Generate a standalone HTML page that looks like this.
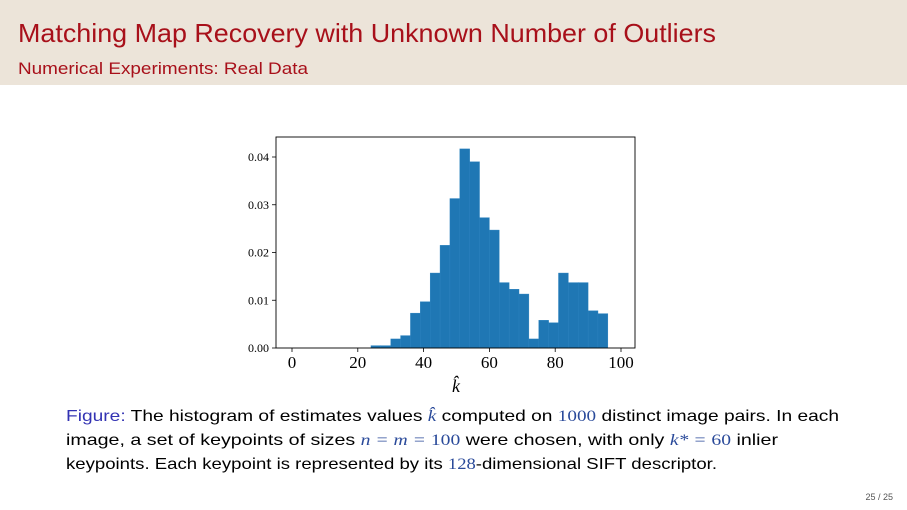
<!DOCTYPE html>
<html><head><meta charset="utf-8"><style>
body{margin:0;width:907px;height:510px;overflow:hidden;background:#fff}
svg{display:block}
.sans{font-family:"Liberation Sans",sans-serif}
.serif{font-family:"Liberation Serif",serif}
</style></head><body>
<svg id="s" width="907" height="510" xmlns="http://www.w3.org/2000/svg">
<rect x="0" y="0" width="907" height="85" fill="#ece4d9"/>
<text class="sans" x="18" y="42" font-size="26" fill="#a8101a" textLength="698" lengthAdjust="spacingAndGlyphs">Matching Map Recovery with Unknown Number of Outliers</text>
<text class="sans" x="18" y="74" font-size="17" fill="#a8101a" textLength="290" lengthAdjust="spacingAndGlyphs">Numerical Experiments: Real Data</text>
<g id="chart"></g>
<text class="sans" x="66" y="421" font-size="16" fill="#000" textLength="773" lengthAdjust="spacingAndGlyphs"><tspan fill="#3333b3">Figure:</tspan> The histogram of estimates values <tspan class="serif" font-style="italic" fill="#2a4a9a">k̂</tspan> computed on <tspan class="serif" fill="#2a4a9a">1000</tspan> distinct image pairs. In each</text>
<text class="sans" x="66" y="445" font-size="16" fill="#000" textLength="712" lengthAdjust="spacingAndGlyphs">image, a set of keypoints of sizes <tspan class="serif" font-style="italic" fill="#2a4a9a">n = m = </tspan><tspan class="serif" fill="#2a4a9a">100</tspan> were chosen, with only <tspan class="serif" font-style="italic" fill="#2a4a9a">k* = </tspan><tspan class="serif" fill="#2a4a9a">60</tspan> inlier</text>
<text class="sans" x="66" y="469" font-size="16" fill="#000" textLength="651" lengthAdjust="spacingAndGlyphs">keypoints. Each keypoint is represented by its <tspan class="serif" fill="#2a4a9a">128</tspan>-dimensional SIFT descriptor.</text>
<text class="sans" x="893" y="500" font-size="9" fill="#555" text-anchor="end">25 / 25</text>
</svg>
<script>
const binStarts=[24,27,30,33,36,39,42,45,48,51,54,57,60,63,66,69,72,75,78,81,84,87,90,93];
const densities=[0.0005,0.0005,0.0019,0.0026,0.0073,0.0097,0.0157,0.0215,0.0313,0.0417,0.039,0.0273,0.0247,0.0137,0.0123,0.0113,0.0019,0.0058,0.0053,0.0157,0.0137,0.0137,0.0078,0.0072];
const binWidth=3;
const xTicks=[0,20,40,60,80,100];
const yTicks=[0,0.01,0.02,0.03,0.04];
const yTickLabels=["0.00","0.01","0.02","0.03","0.04"];
const NS="http://www.w3.org/2000/svg";
const g=document.getElementById('chart');
const L=276,R=635,T=137,B=348;
const xs=v=>292+v*(621-292)/100;
const ys=v=>B-v*(B-157)/0.04;
function mk(t,a){const e=document.createElementNS(NS,t);for(const k in a)e.setAttribute(k,a[k]);g.appendChild(e);return e;}
binStarts.forEach((b,i)=>{
 const r=mk('rect',{x:xs(b),y:ys(densities[i]),width:xs(b+binWidth)-xs(b),height:B-ys(densities[i]),fill:'#1f77b4',stroke:'#2b82bf','stroke-width':0.4});
 
 
});
const f=mk('rect',{x:L,y:T,width:R-L,height:B-T,fill:'none',stroke:'#000','stroke-width':0.9});


xTicks.forEach(v=>{
 mk('line',{x1:xs(v),x2:xs(v),y1:B,y2:B+4,stroke:'#000','stroke-width':0.8});
 const t=mk('text',{x:xs(v),y:B+20,'font-size':17,'text-anchor':'middle','font-family':'Liberation Serif, serif'});
 t.textContent=v;
 
 
});
yTicks.forEach((v,i)=>{
 mk('line',{x1:L-4,x2:L,y1:ys(v),y2:ys(v),stroke:'#000','stroke-width':0.8});
 const t=mk('text',{x:L-7,y:ys(v)+4,'font-size':12,'text-anchor':'end','font-family':'Liberation Serif, serif'});
 t.textContent=yTickLabels[i];
 
 
});
const xl=mk('text',{x:456,y:392,'font-size':18,'text-anchor':'middle','font-style':'italic','font-family':'Liberation Serif, serif'});
xl.textContent='k̂';


</script>
</body></html>
